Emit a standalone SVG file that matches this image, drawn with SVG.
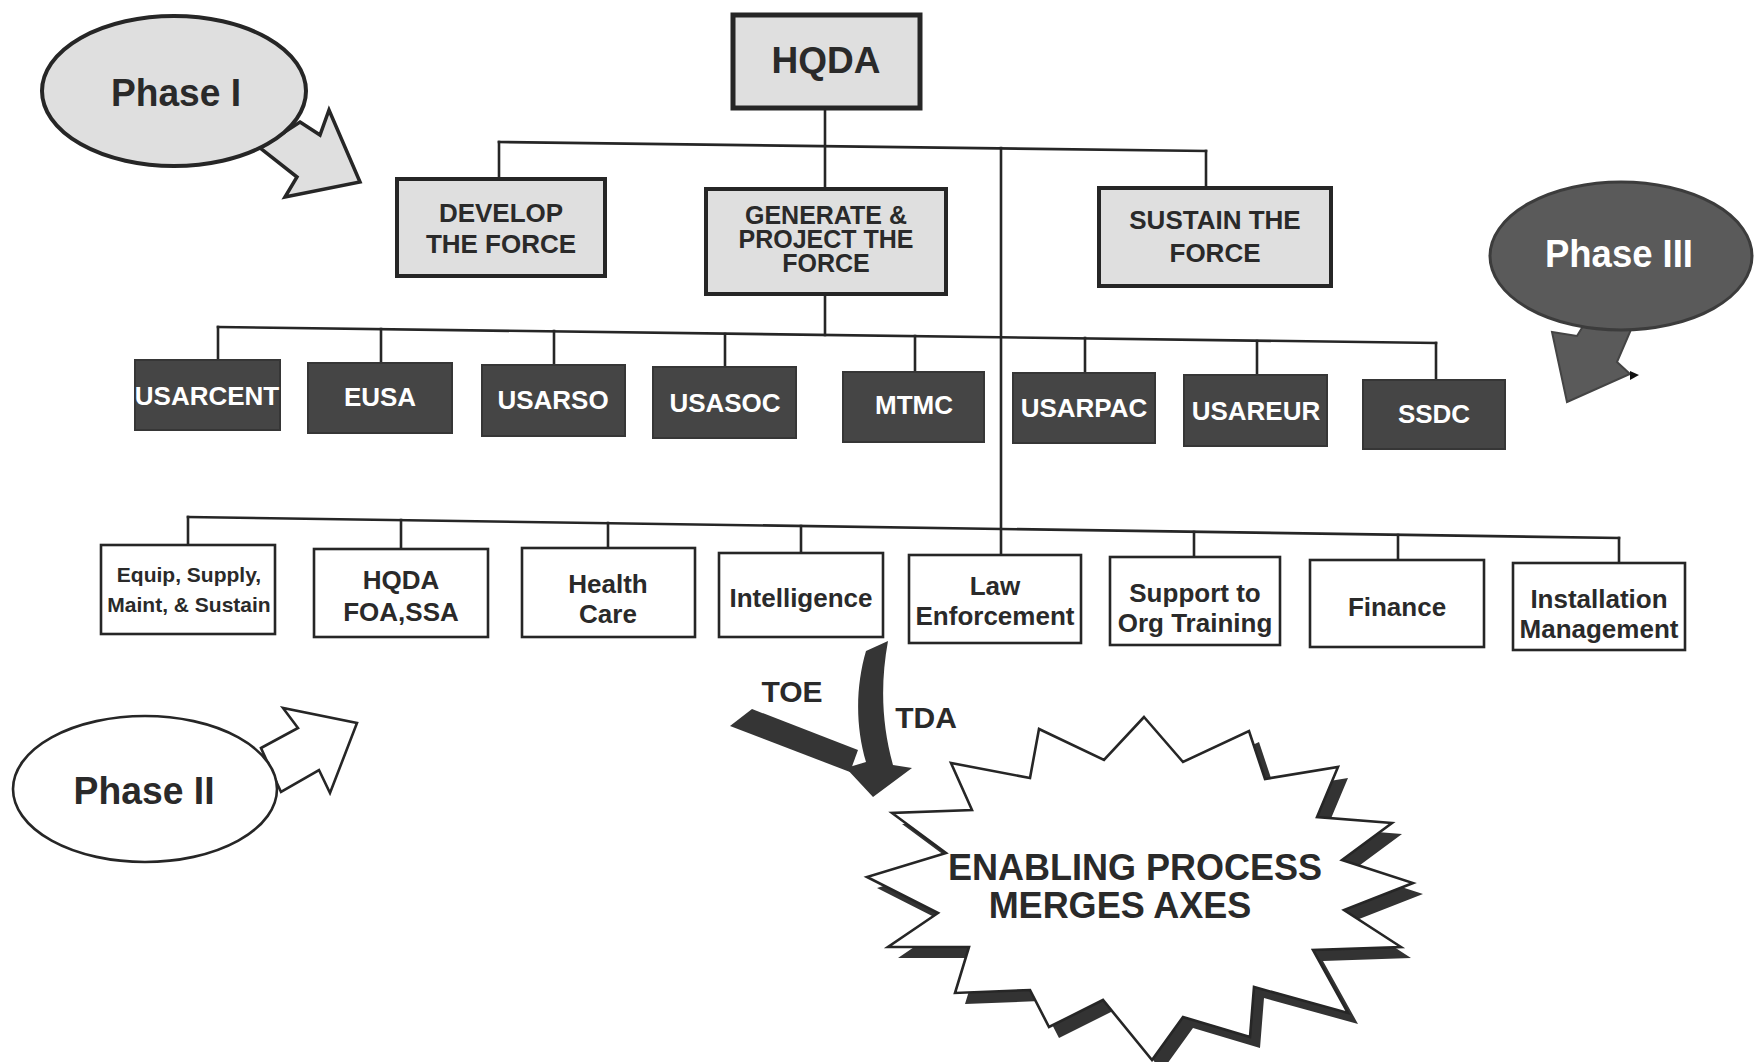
<svg xmlns="http://www.w3.org/2000/svg" width="1754" height="1062" viewBox="0 0 1754 1062">
  <style>
    .wire { fill: none; stroke: #262626; stroke-width: 2.6; stroke-linecap: square; }
    .lbox { fill: #dfdfdf; stroke: #262626; stroke-width: 4; }
    .dbox { fill: #454545; stroke: #363636; stroke-width: 2; }
    .wbox { fill: #ffffff; stroke: #262626; stroke-width: 2.6; }
    .t { font-family: "Liberation Sans", Arial, sans-serif; font-weight: bold; text-anchor: middle; fill: #2a2a2a; }
    .tw { font-family: "Liberation Sans", Arial, sans-serif; font-weight: bold; text-anchor: middle; fill: #ffffff; }
    .s26 { font-size: 26px; }
    .s25 { font-size: 25px; }
    .s21 { font-size: 21px; }
    .phase { font-size: 39px; }
    .band { fill: #353535; }
  </style>

  <rect width="1754" height="1062" fill="#ffffff"/>

  <!-- connectors of the tree -->
  <g id="connectors" class="wire">
    <!-- HQDA to the three force boxes -->
    <line x1="825" y1="108" x2="825" y2="188"/>
    <line x1="499" y1="142" x2="1206" y2="151"/>
    <line x1="499" y1="142" x2="499" y2="179"/>
    <line x1="1206" y1="151" x2="1206" y2="187"/>
    <!-- trunk down to the functional row -->
    <line x1="1001" y1="148" x2="1001" y2="555"/>
    <!-- GENERATE to the commands row -->
    <line x1="825" y1="294" x2="825" y2="335"/>
    <line x1="218" y1="327" x2="1436" y2="343"/>
    <line x1="218" y1="327" x2="218" y2="360"/>
    <line x1="381" y1="329" x2="381" y2="363"/>
    <line x1="554" y1="331" x2="554" y2="365"/>
    <line x1="725" y1="334" x2="725" y2="367"/>
    <line x1="915" y1="336" x2="915" y2="372"/>
    <line x1="1085" y1="338" x2="1085" y2="373"/>
    <line x1="1257" y1="341" x2="1257" y2="375"/>
    <line x1="1436" y1="343" x2="1436" y2="380"/>
    <!-- functional row -->
    <line x1="188" y1="517" x2="1619" y2="538"/>
    <line x1="188" y1="517" x2="188" y2="545"/>
    <line x1="401" y1="520" x2="401" y2="549"/>
    <line x1="608" y1="523" x2="608" y2="548"/>
    <line x1="801" y1="526" x2="801" y2="553"/>
    <line x1="1194" y1="532" x2="1194" y2="557"/>
    <line x1="1398" y1="535" x2="1398" y2="560"/>
    <line x1="1619" y1="538" x2="1619" y2="563"/>
  </g>

  <!-- top level -->
  <g id="hqda">
    <rect class="lbox" x="733" y="15" width="187" height="93" style="stroke-width:5"/>
    <text class="t" x="826" y="73" font-size="37">HQDA</text>
  </g>

  <g id="develop">
    <rect class="lbox" x="397" y="179" width="208" height="97"/>
    <text class="t s26" x="501" y="222">DEVELOP</text>
    <text class="t s26" x="501" y="253">THE FORCE</text>
  </g>

  <g id="generate">
    <rect class="lbox" x="706" y="189" width="240" height="105"/>
    <text class="t s25" x="826" y="224">GENERATE &amp;</text>
    <text class="t s25" x="826" y="248">PROJECT THE</text>
    <text class="t s25" x="826" y="272">FORCE</text>
  </g>

  <g id="sustain">
    <rect class="lbox" x="1099" y="188" width="232" height="98"/>
    <text class="t s26" x="1215" y="229">SUSTAIN THE</text>
    <text class="t s26" x="1215" y="262">FORCE</text>
  </g>

  <!-- commands row -->
  <g id="usarcent">
    <rect class="dbox" x="135" y="360" width="145" height="70"/>
    <text class="tw s26" x="207" y="405">USARCENT</text>
  </g>
  <g id="eusa">
    <rect class="dbox" x="308" y="363" width="144" height="70"/>
    <text class="tw s26" x="380" y="406">EUSA</text>
  </g>
  <g id="usarso">
    <rect class="dbox" x="482" y="365" width="143" height="71"/>
    <text class="tw s26" x="553" y="409">USARSO</text>
  </g>
  <g id="usasoc">
    <rect class="dbox" x="653" y="367" width="143" height="71"/>
    <text class="tw s26" x="725" y="412">USASOC</text>
  </g>
  <g id="mtmc">
    <rect class="dbox" x="843" y="372" width="141" height="70"/>
    <text class="tw s26" x="914" y="414">MTMC</text>
  </g>
  <g id="usarpac">
    <rect class="dbox" x="1013" y="373" width="142" height="70"/>
    <text class="tw s26" x="1084" y="417">USARPAC</text>
  </g>
  <g id="usareur">
    <rect class="dbox" x="1184" y="375" width="143" height="71"/>
    <text class="tw s26" x="1256" y="420">USAREUR</text>
  </g>
  <g id="ssdc">
    <rect class="dbox" x="1363" y="380" width="142" height="69"/>
    <text class="tw s26" x="1434" y="423">SSDC</text>
  </g>

  <!-- functional row -->
  <g id="equip">
    <rect class="wbox" x="101" y="545" width="174" height="89"/>
    <text class="t s21" x="189" y="582">Equip, Supply,</text>
    <text class="t s21" x="189" y="612">Maint, &amp; Sustain</text>
  </g>
  <g id="hqda-foa">
    <rect class="wbox" x="314" y="549" width="174" height="88"/>
    <text class="t s26" x="401" y="589">HQDA</text>
    <text class="t s26" x="401" y="621">FOA,SSA</text>
  </g>
  <g id="health">
    <rect class="wbox" x="522" y="548" width="173" height="89"/>
    <text class="t s26" x="608" y="593">Health</text>
    <text class="t s26" x="608" y="623">Care</text>
  </g>
  <g id="intelligence">
    <rect class="wbox" x="719" y="553" width="164" height="84"/>
    <text class="t s26" x="801" y="607">Intelligence</text>
  </g>
  <g id="law">
    <rect class="wbox" x="909" y="555" width="172" height="88"/>
    <text class="t s26" x="995" y="595">Law</text>
    <text class="t s26" x="995" y="625">Enforcement</text>
  </g>
  <g id="support">
    <rect class="wbox" x="1110" y="557" width="170" height="88"/>
    <text class="t s26" x="1195" y="602">Support to</text>
    <text class="t s26" x="1195" y="632">Org Training</text>
  </g>
  <g id="finance">
    <rect class="wbox" x="1310" y="560" width="174" height="87"/>
    <text class="t s26" x="1397" y="616">Finance</text>
  </g>
  <g id="installation">
    <rect class="wbox" x="1513" y="563" width="172" height="87"/>
    <text class="t s26" x="1599" y="608">Installation</text>
    <text class="t s26" x="1599" y="638">Management</text>
  </g>

  <!-- phase callouts -->
  <g id="phase-1">
    <polygon points="300,122 320,135 329,110 360,182 285,197 297,177 260,148" fill="#dfdfdf" stroke="#262626" stroke-width="3.5" stroke-linejoin="miter"/>
    <ellipse cx="174" cy="91" rx="132" ry="75" fill="#dfdfdf" stroke="#262626" stroke-width="4"/>
    <text class="t phase" x="176" y="106" textLength="130" lengthAdjust="spacingAndGlyphs">Phase I</text>
  </g>

  <g id="phase-2">
    <polygon points="261,748 298,728 283,708 357,723 330,793 319,770 281,792" fill="#ffffff" stroke="#262626" stroke-width="2.6"/>
    <ellipse cx="145" cy="789" rx="132" ry="73" fill="#ffffff" stroke="#262626" stroke-width="2.6"/>
    <text class="t phase" x="144" y="804" textLength="141" lengthAdjust="spacingAndGlyphs">Phase II</text>
  </g>

  <g id="phase-3">
    <polygon points="1588,318 1577,336 1552,332 1567,402 1630,374 1617,362 1636,318" fill="#5a5a5a" stroke="#444444" stroke-width="2"/>
    <polygon points="1630,371 1639,375 1630,380" fill="#111111"/>
    <ellipse cx="1621" cy="256" rx="131" ry="74" fill="#5a5a5a" stroke="#3c3c3c" stroke-width="3"/>
    <text class="tw phase" x="1619" y="267" textLength="148" lengthAdjust="spacingAndGlyphs">Phase III</text>
  </g>

  <!-- TOE / TDA arrows into the enabling process -->
  <g id="toe-tda">
    <polygon class="band" points="730,726 752,709 858,750 850,772"/>
    <path class="band" d="M888,641 L866,651 C856,685 855,725 866,762 L846,768 L873,797 L912,768 L893,765 C882,725 880,685 888,641 Z"/>
    <text class="t" x="792" y="702" font-size="30">TOE</text>
    <text class="t" x="926" y="728" font-size="30">TDA</text>
  </g>

  <!-- starburst -->
  <g id="enabling-process">
    <polygon transform="translate(10,11)" fill="#333333" points="1144,717 1183,762 1249,731 1265,779 1338,767 1317,817 1392,823 1342,860 1413,883 1344,910 1401,947 1313,950 1348,1013 1254,987 1250,1037 1183,1017 1152,1060 1103,1000 1049,1027 1030,990 955,993 969,947 888,947 938,913 867,877 946,853 892,813 972,810 951,763 1030,778 1039,729 1104,760"/>
    <polygon fill="#ffffff" stroke="#262626" stroke-width="2.6" stroke-linejoin="miter" points="1144,717 1183,762 1249,731 1265,779 1338,767 1317,817 1392,823 1342,860 1413,883 1344,910 1401,947 1313,950 1348,1013 1254,987 1250,1037 1183,1017 1152,1060 1103,1000 1049,1027 1030,990 955,993 969,947 888,947 938,913 867,877 946,853 892,813 972,810 951,763 1030,778 1039,729 1104,760"/>
    <text class="t" x="1135" y="880" font-size="36">ENABLING PROCESS</text>
    <text class="t" x="1120" y="918" font-size="36">MERGES AXES</text>
  </g>
</svg>
